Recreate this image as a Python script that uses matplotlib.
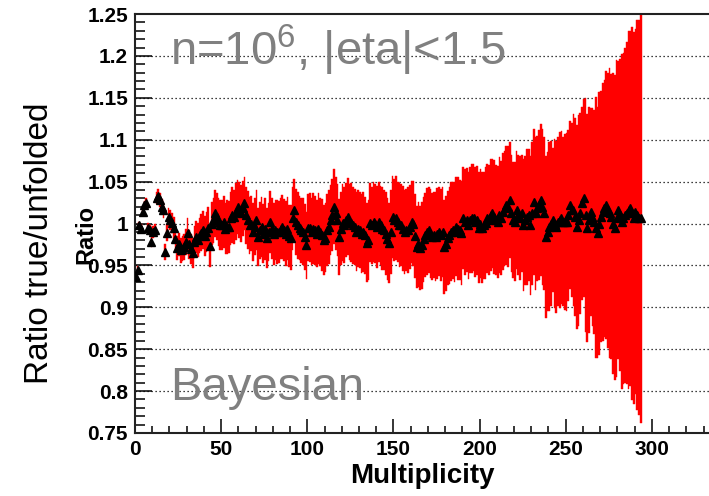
import numpy as np
import matplotlib
matplotlib.use("Agg")
import matplotlib.pyplot as plt
from matplotlib.ticker import MultipleLocator

plt.rcParams['font.family'] = ['Liberation Sans', 'DejaVu Sans']
plt.rcParams['mathtext.fontset'] = 'custom'
plt.rcParams['mathtext.rm'] = 'Liberation Sans'

# ratio true/unfolded per multiplicity bin (bins 0..293)
ratio = [
    # 0-19
    0.936, 0.945, 0.998, 0.994, 1.014, 1.022, 1.025, 0.995, 0.992, 0.978,
    0.990, 0.992, 1.030, 1.033, 1.028, 1.020, 1.016, 0.966, 0.989, 1.008,
    # 20-49
    1.004, 1.001, 0.995, 0.981, 0.971, 0.975, 0.968, 0.970, 0.972, 0.978,
    0.989, 0.975, 0.970, 0.965, 0.978, 0.984, 0.980, 0.986, 0.989, 0.992,
    0.985, 0.990, 0.995, 0.973, 1.000, 1.004, 1.012, 1.008, 1.002, 0.998,
    # 50-99
    0.998, 1.002, 0.994, 0.996, 0.996, 1.006, 1.010, 1.008, 1.014, 1.020,
    1.016, 1.012, 1.018, 1.024, 1.010, 1.004, 0.998, 1.000, 0.990, 0.996,
    1.004, 0.984, 0.992, 0.996, 0.988, 0.994, 0.983, 0.990, 1.002, 0.994,
    0.987, 0.992, 0.990, 0.990, 0.994, 0.996, 0.992, 0.988, 0.994, 0.985,
    0.983, 1.006, 1.016, 1.002, 0.998, 0.995, 0.992, 0.990, 0.984, 0.974,
    # 100-149
    0.995, 0.995, 0.990, 0.994, 0.992, 0.988, 0.994, 0.990, 0.986, 0.980,
    0.983, 0.992, 0.996, 1.004, 1.010, 1.020, 1.012, 1.004, 0.984, 0.994,
    1.001, 0.998, 1.004, 1.008, 1.002, 1.001, 0.998, 0.996, 0.990, 0.994,
    0.992, 0.988, 0.990, 0.986, 0.977, 0.980, 1.001, 0.998, 1.002, 1.000,
    0.996, 1.002, 0.998, 0.994, 0.992, 0.988, 0.982, 0.977, 0.990, 1.008,
    # 150-199
    1.004, 1.007, 1.002, 0.998, 0.998, 0.994, 0.990, 0.992, 0.992, 0.996,
    1.002, 1.000, 0.985, 0.972, 0.975, 0.971, 0.974, 0.981, 0.986, 0.990,
    0.992, 0.988, 0.984, 0.986, 0.984, 0.988, 0.990, 0.986, 0.990, 0.972,
    0.976, 0.983, 0.986, 0.990, 0.992, 0.990, 0.996, 0.994, 0.992, 0.989,
    1.007, 1.002, 1.004, 0.998, 1.004, 1.006, 1.007, 1.002, 1.004, 0.995,
    # 200-249
    1.000, 0.995, 0.998, 1.001, 1.006, 1.004, 1.010, 1.012, 1.008, 1.004,
    1.002, 1.010, 1.007, 1.014, 1.018, 1.022, 1.020, 1.028, 1.012, 1.004,
    1.002, 1.016, 1.010, 1.006, 1.012, 0.998, 1.004, 1.008, 1.010, 0.998,
    1.012, 1.026, 1.012, 1.018, 1.022, 1.028, 1.020, 1.012, 0.984, 0.990,
    0.996, 1.000, 1.004, 1.000, 0.996, 1.002, 1.004, 1.007, 1.002, 1.002,
    # 250-293
    1.002, 1.010, 1.022, 1.016, 1.016, 1.008, 0.996, 1.004, 1.012, 1.024,
    1.030, 1.010, 0.995, 1.004, 1.014, 1.008, 1.002, 0.995, 0.989, 1.000,
    1.008, 1.014, 1.018, 1.022, 1.016, 1.012, 1.008, 1.000, 0.995, 1.006,
    1.016, 1.010, 1.002, 1.006, 1.010, 1.012, 1.016, 1.018, 1.012, 1.007,
    1.014, 1.010, 1.007, 1.007,
]

# statistical error of each bin
error = [
    # 0-19
    0.004, 0.004, 0.004, 0.005, 0.005, 0.005, 0.005, 0.006, 0.006, 0.006,
    0.007, 0.007, 0.007, 0.008, 0.008, 0.009, 0.009, 0.010, 0.010, 0.011,
    # 20-49
    0.012, 0.012, 0.013, 0.013, 0.014, 0.014, 0.015, 0.015, 0.016, 0.016,
    0.017, 0.017, 0.018, 0.018, 0.019, 0.019, 0.020, 0.021, 0.022, 0.023,
    0.024, 0.024, 0.025, 0.025, 0.026, 0.027, 0.028, 0.028, 0.029, 0.030,
    # 50-99
    0.030, 0.031, 0.030, 0.032, 0.031, 0.032, 0.033, 0.032, 0.034, 0.032,
    0.033, 0.034, 0.033, 0.032, 0.034, 0.035, 0.034, 0.033, 0.035, 0.034,
    0.036, 0.035, 0.034, 0.036, 0.035, 0.037, 0.036, 0.035, 0.037, 0.036,
    0.037, 0.036, 0.038, 0.037, 0.036, 0.038, 0.037, 0.039, 0.038, 0.037,
    0.039, 0.038, 0.037, 0.039, 0.040, 0.038, 0.039, 0.040, 0.039, 0.040,
    # 100-149
    0.040, 0.041, 0.040, 0.042, 0.041, 0.040, 0.042, 0.041, 0.043, 0.042,
    0.041, 0.043, 0.044, 0.042, 0.043, 0.045, 0.044, 0.043, 0.045, 0.044,
    0.046, 0.045, 0.044, 0.046, 0.045, 0.047, 0.046, 0.045, 0.047, 0.046,
    0.045, 0.047, 0.048, 0.046, 0.047, 0.048, 0.047, 0.046, 0.048, 0.047,
    0.049, 0.048, 0.047, 0.049, 0.048, 0.050, 0.049, 0.048, 0.050, 0.049,
    # 150-199
    0.049, 0.050, 0.048, 0.050, 0.049, 0.051, 0.050, 0.049, 0.051, 0.050,
    0.049, 0.051, 0.050, 0.049, 0.051, 0.050, 0.052, 0.051, 0.050, 0.052,
    0.051, 0.053, 0.052, 0.051, 0.053, 0.054, 0.053, 0.055, 0.054, 0.056,
    0.057, 0.056, 0.058, 0.059, 0.058, 0.060, 0.059, 0.061, 0.060, 0.062,
    0.061, 0.063, 0.062, 0.064, 0.063, 0.065, 0.064, 0.066, 0.065, 0.066,
    # 200-249
    0.065, 0.066, 0.064, 0.067, 0.065, 0.066, 0.067, 0.065, 0.068, 0.066,
    0.067, 0.069, 0.068, 0.070, 0.069, 0.071, 0.072, 0.069, 0.070, 0.069,
    0.071, 0.070, 0.072, 0.074, 0.070, 0.079, 0.077, 0.081, 0.079, 0.083,
    0.085, 0.087, 0.091, 0.087, 0.089, 0.091, 0.093, 0.091, 0.097, 0.095,
    0.101, 0.099, 0.086, 0.101, 0.103, 0.101, 0.105, 0.103, 0.101, 0.105,
    # 250-293
    0.106, 0.102, 0.100, 0.104, 0.115, 0.118, 0.122, 0.126, 0.120, 0.115,
    0.118, 0.140, 0.136, 0.135, 0.124, 0.130, 0.134, 0.156, 0.150, 0.157,
    0.150, 0.154, 0.153, 0.160, 0.164, 0.173, 0.170, 0.180, 0.182, 0.189,
    0.178, 0.186, 0.200, 0.198, 0.200, 0.204, 0.214, 0.212, 0.223, 0.222,
    0.218, 0.233, 0.236, 0.245,
]

x_ticks = [0, 50, 100, 150, 200, 250, 300]
y_ticks = [0.75, 0.8, 0.85, 0.9, 0.95, 1.0, 1.05, 1.1, 1.15, 1.2, 1.25]
y_ticklabels = ["0.75", "0.8", "0.85", "0.9", "0.95", "1", "1.05", "1.1", "1.15", "1.2", "1.25"]

ratio = np.array(ratio)
error = np.array(error)
centers = np.arange(len(ratio)) + 0.5

fig = plt.figure(figsize=(7.09, 4.96), dpi=100)
ax = fig.add_axes([135 / 709, 1 - 433 / 496, 1 - 135 / 709 + 0.002, (433 - 14) / 496])

for yv in y_ticks[1:-1]:
    ax.axhline(yv, color='black', lw=0.9, ls=(0, (1, 2.2)), zorder=1)

ax.bar(centers, 2 * error, bottom=ratio - error, width=1.0, color='#ff0000',
       edgecolor='#ff0000', linewidth=0.3, zorder=2)
ax.plot(centers, ratio, ls='none', marker='^', ms=5.2, color='black', zorder=3)

ax.set_xlim(0, 334)
ax.set_ylim(0.75, 1.25)
ax.set_xticks(x_ticks)
ax.set_yticks(y_ticks)
ax.set_yticklabels(y_ticklabels)
ax.xaxis.set_minor_locator(MultipleLocator(10))
ax.yaxis.set_minor_locator(MultipleLocator(0.01))
ax.tick_params(axis='x', which='major', direction='in', length=10, width=1.1, pad=5)
ax.tick_params(axis='x', which='minor', direction='in', length=5, width=1.1)
ax.tick_params(axis='y', which='major', direction='in', length=12, width=1.1, pad=5)
ax.tick_params(axis='y', which='minor', direction='in', length=7, width=1.1)
for lab in ax.get_xticklabels() + ax.get_yticklabels():
    lab.set_fontweight('bold')
    lab.set_fontsize(15)
for s in ax.spines.values():
    s.set_linewidth(1.5)
    s.set_color('#222222')

fig.text(495 / 709, 1 - 483 / 496, "Multiplicity", fontsize=20, fontweight='bold',
         ha='right', va='baseline')
fig.text(86 / 709, 1 - 234 / 496, "Ratio", fontsize=17, fontweight='bold',
         rotation=90, ha='center', va='center')
fig.text(40 / 709, 1 - 243 / 496, "Ratio true/unfolded", fontsize=24,
         rotation=90, ha='center', va='center')
fig.text(170 / 709, 1 - 65 / 496, r"n=10$^{\mathregular{6}}$, |eta|<1.5", fontsize=34,
         color='#808080', ha='left', va='baseline')
fig.text(170 / 709, 1 - 400 / 496, "Bayesian", fontsize=34,
         color='#808080', ha='left', va='baseline')

fig.savefig("out.png", dpi=100)
